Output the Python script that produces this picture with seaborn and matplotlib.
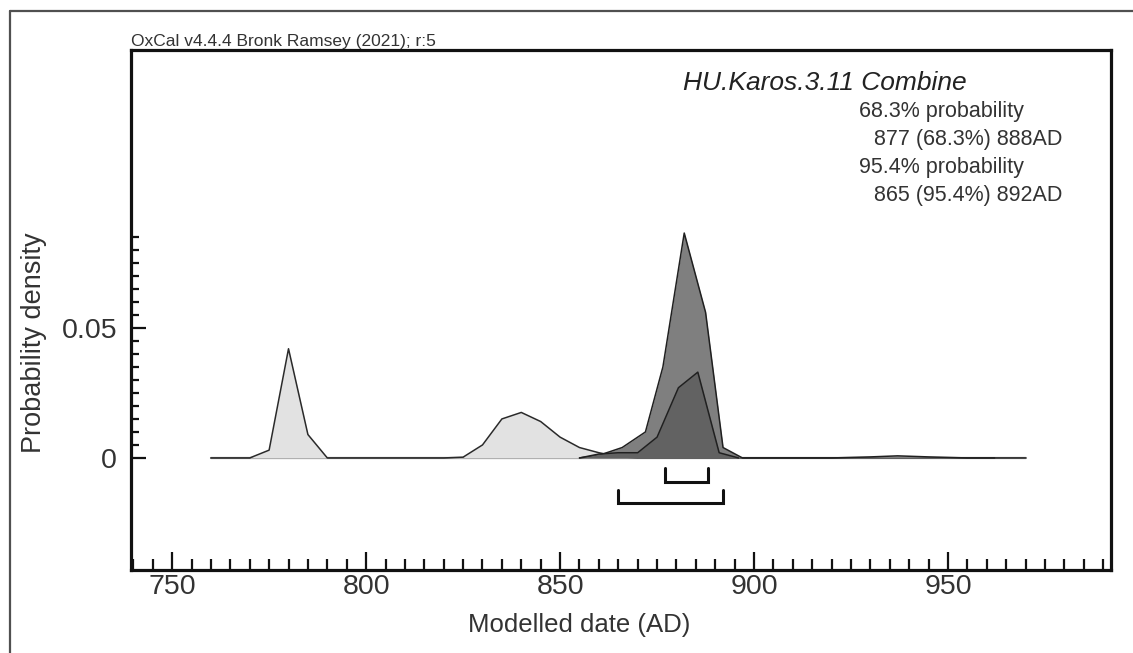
import numpy as np
import pandas as pd
import matplotlib
matplotlib.use("Agg")
import matplotlib.pyplot as plt
from matplotlib.ticker import FixedLocator
import seaborn as sns

# Likelihood (light grey) distribution
light_years = [760, 770, 775, 780, 785, 790, 820, 825, 830, 835, 840, 845, 850, 855, 860, 865, 870, 970]
light_dens = [0, 0, 0.003, 0.042, 0.009, 0, 0, 0.0003, 0.005, 0.015, 0.0175, 0.014, 0.008, 0.004, 0.002, 0.0005, 0, 0]

# Posterior (dark grey) distribution
post_years = [855, 860, 866, 872, 876.5, 882, 887.5, 892, 897, 920, 930, 937, 945, 955, 962]
post_dens = [0, 0.001, 0.004, 0.010, 0.035, 0.0865, 0.056, 0.004, 0, 0, 0.0004, 0.0008, 0.0004, 0, 0]

# Inner (medium) distribution
inner_years = [855, 860, 865, 870, 875, 880.5, 885.5, 891, 896]
inner_dens = [0, 0.0015, 0.002, 0.002, 0.008, 0.027, 0.033, 0.002, 0]

# Highest posterior density ranges
range_68 = [877, 888]
range_95 = [865, 892]

x_ticks = [750, 800, 850, 900, 950]
y_ticks = [0, 0.05]

title = "HU.Karos.3.11 Combine"
prob_lines = ["68.3% probability", "877 (68.3%) 888AD", "95.4% probability", "865 (95.4%) 892AD"]

sns.set_theme(style="white")
plt.rcParams["font.family"] = ["Liberation Sans", "DejaVu Sans"]

light = pd.DataFrame({"year": light_years, "dens": light_dens})
post = pd.DataFrame({"year": post_years, "dens": post_dens})
inner = pd.DataFrame({"year": inner_years, "dens": inner_dens})

fig = plt.figure(figsize=(11.33, 6.53), dpi=100)
ax = fig.add_axes([131 / 1133, 1 - 570 / 653, 980 / 1133, 520 / 653])

# baseline
ax.plot([light_years[0], light_years[-1]], [0, 0], color="#8a8a8a", lw=1.6, zorder=1)

ax.fill_between(light["year"], 0, light["dens"], color="#e2e2e2", lw=0, zorder=2)
sns.lineplot(data=light, x="year", y="dens", ax=ax, color="#2a2a2a", lw=1.1, zorder=3,
             estimator=None, sort=False)

ax.fill_between(post["year"], 0, post["dens"], color="#7f7f7f", lw=0, zorder=4)
sns.lineplot(data=post, x="year", y="dens", ax=ax, color="#202020", lw=1.1, zorder=5,
             estimator=None, sort=False)

ax.fill_between(inner["year"], 0, inner["dens"], color="#626262", lw=0, zorder=6)
sns.lineplot(data=inner, x="year", y="dens", ax=ax, color="#202020", lw=1.1, zorder=7,
             estimator=None, sort=False)

# range brackets
def bracket(r, y_top, y_bot):
    ax.plot([r[0], r[0], r[1], r[1]], [y_top, y_bot, y_bot, y_top],
            color="#111111", lw=2.2, solid_joinstyle="miter", zorder=8)

bracket(range_68, -0.0038, -0.0092)
bracket(range_95, -0.0123, -0.0173)

ax.set_xlim(739.4, 992.0)
ax.set_ylim(-0.0431, 0.1569)

ax.xaxis.set_major_locator(FixedLocator(x_ticks))
ax.xaxis.set_minor_locator(FixedLocator([v for v in range(740, 995, 5) if v % 50]))
ax.yaxis.set_major_locator(FixedLocator(y_ticks))
ax.yaxis.set_minor_locator(FixedLocator([round(v * 0.005, 3) for v in range(1, 18) if v != 10]))
ax.set_yticklabels(["0", "0.05"])
ax.set_xticklabels([str(v) for v in x_ticks])

ax.tick_params(axis="x", which="major", direction="in", length=13, width=1.6,
               labelsize=20.5, pad=3, colors="#111111", labelcolor="#333333", bottom=True)
ax.tick_params(axis="x", which="minor", direction="in", length=8, width=1.6,
               colors="#111111", bottom=True)
ax.tick_params(axis="y", which="major", direction="in", length=11, width=1.6,
               labelsize=20.5, pad=10, colors="#111111", labelcolor="#333333", left=True)
ax.tick_params(axis="y", which="minor", direction="in", length=6, width=1.6,
               colors="#111111", left=True)

for s in ax.spines.values():
    s.set_visible(True)
    s.set_color("#111111")
    s.set_linewidth(2.3)

ax.set_xlabel("Modelled date (AD)", fontsize=18.5, color="#333333")
ax.set_ylabel("Probability density", fontsize=19.5, color="#333333")
ax.yaxis.set_label_coords(-(131 - 47) / 980, (570 - 343) / 520)
ax.xaxis.set_label_coords((579 - 131) / 980, -(613 - 570) / 520)

ax.text((683 - 131) / 980, (570 - 83) / 520, title, transform=ax.transAxes,
        fontsize=19, style="italic", color="#222222", va="center", ha="left")
px = [859, 874, 859, 874]
py = [112, 140, 167, 195]
for t, x, y in zip(prob_lines, px, py):
    ax.text((x - 131) / 980, (570 - y) / 520, t, transform=ax.transAxes,
            fontsize=15.5, color="#333333", va="center", ha="left")

fig.text(131 / 1133, 1 - 46 / 653, "OxCal v4.4.4 Bronk Ramsey (2021); r:5",
         fontsize=12.5, color="#333333", va="baseline", ha="left")

# outer frame
fig.add_artist(plt.Line2D([10 / 1133, 10 / 1133], [0, 1 - 11 / 653],
                          transform=fig.transFigure, color="#505050", lw=1.6))
fig.add_artist(plt.Line2D([10 / 1133, 1], [1 - 11 / 653, 1 - 11 / 653],
                          transform=fig.transFigure, color="#505050", lw=1.6))

fig.savefig("out.png", dpi=100, facecolor="white")
